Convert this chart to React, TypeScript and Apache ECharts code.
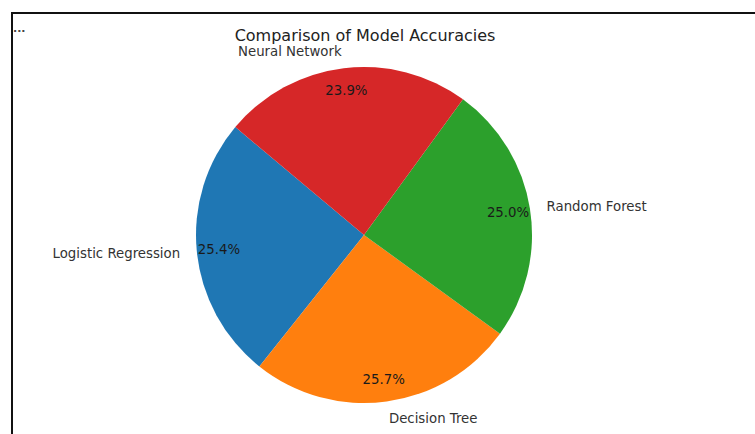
import React, { useEffect, useRef } from "react";
import * as echarts from "echarts";

const title = "Comparison of Model Accuracies";
const models = ["Logistic Regression", "Decision Tree", "Random Forest", "Neural Network"];
const accuracies = [0.85, 0.86, 0.835, 0.8];
const colors = ["#1f77b4", "#ff7f0e", "#2ca02c", "#d62728"];

const CX = 364;
const CY = 235;
const R = 168;
const FONT = "DejaVu Sans";

export default function App() {
  const ref = useRef<HTMLDivElement>(null);
  useEffect(() => {
    if (!ref.current) return;
    const chart = echarts.init(ref.current, null, { renderer: "svg" });
    const total = accuracies.reduce((a, b) => a + b, 0);
    const data = models.map((name, i) => ({
      name,
      value: accuracies[i],
      itemStyle: { color: colors[i] },
    }));
    const common = {
      type: "pie" as const,
      center: [CX, CY],
      startAngle: 140,
      clockwise: false,
      avoidLabelOverlap: false,
      silent: true,
      emphasis: { disabled: true },
    };
    chart.setOption({
      animation: false,
      backgroundColor: "#ffffff",
      title: {
        text: title,
        left: 360,
        top: 22,
        textAlign: "center",
        textStyle: { fontFamily: FONT, fontSize: 16, lineHeight: 16, fontWeight: "normal", color: "#222" },
      },
      graphic: [
        { type: "line", shape: { x1: 11, y1: 13, x2: 755, y2: 13 }, style: { stroke: "#111", lineWidth: 2 } },
        { type: "line", shape: { x1: 12, y1: 12, x2: 12, y2: 434 }, style: { stroke: "#111", lineWidth: 2 } },
        {
          type: "text",
          x: 13,
          y: 28,
          style: { text: "...", fontFamily: FONT, fontSize: 11, fontWeight: "bold", fill: "#444", textVerticalAlign: "middle" },
        },
      ],
      series: [
        {
          ...common,
          radius: [0, R],
          data,
          itemStyle: { borderWidth: 0 },
          label: {
            show: true,
            position: "outside",
            formatter: "{b}",
            fontFamily: FONT,
            fontSize: 13.3,
            color: "#333",
            distanceToLabelLine: 0,
          },
          labelLine: { show: false, length: R * 0.1, length2: 0 },
        },
        {
          ...common,
          radius: [R * 0.75, R * 0.95],
          data: data.map((d) => ({ ...d, itemStyle: { color: "rgba(0,0,0,0)" } })),
          label: {
            show: true,
            position: "inside",
            formatter: (p: any) => ((p.value / total) * 100).toFixed(1) + "%",
            fontFamily: FONT,
            fontSize: 13.3,
            color: "#1a1a1a",
          },
          labelLine: { show: false },
        },
      ],
    });
    return () => chart.dispose();
  }, []);
  return (
    <div
      ref={ref}
      style={{ position: "absolute", left: 0, top: 0, width: 755, height: 434, background: "#fff" }}
    />
  );
}
